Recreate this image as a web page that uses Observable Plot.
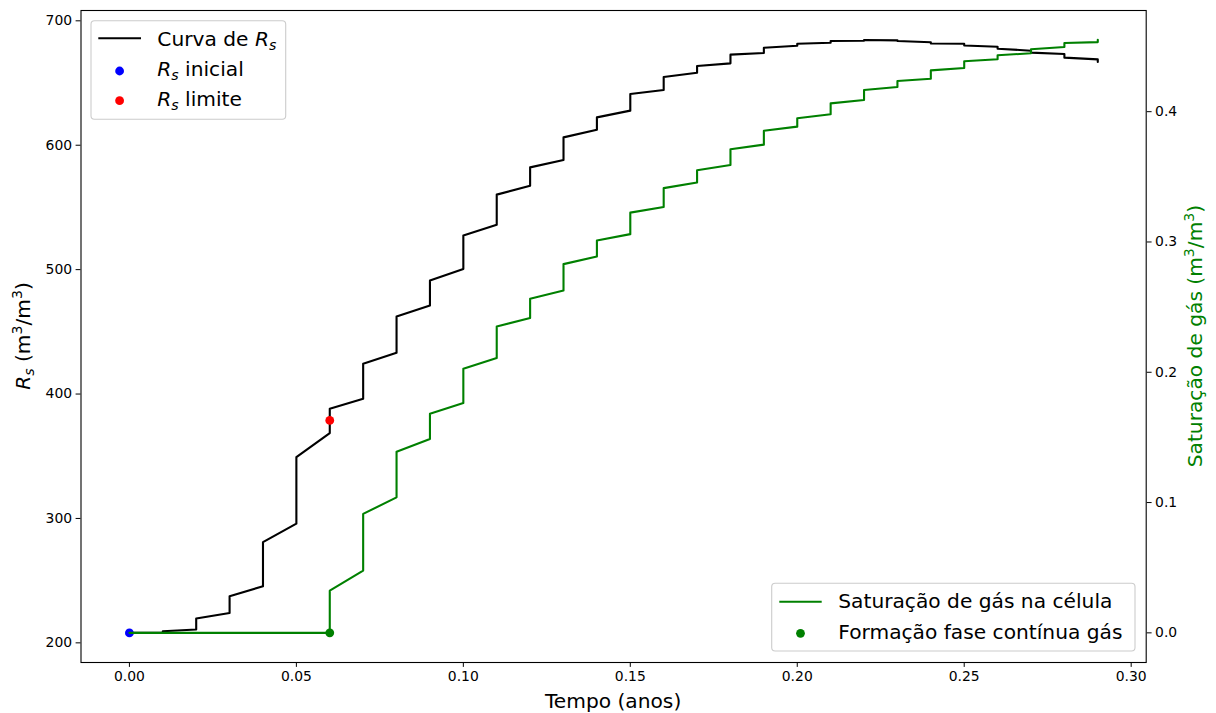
<!DOCTYPE html>
<html>
<head>
<meta charset="utf-8">
<script src="https://cdn.jsdelivr.net/npm/d3@7"></script>
<script src="https://cdn.jsdelivr.net/npm/@observablehq/plot@0.6"></script>
<style>
  html, body { margin: 0; padding: 0; background: #fff; }
  #chart { width: 1216px; height: 713px; }
  svg { font-family: "DejaVu Sans", sans-serif; }
</style>
</head>
<body>
<div id="chart"></div>
<script>
// ---- Data ----
const tempo = [0.00, 0.01, 0.02, 0.03, 0.04, 0.05, 0.06, 0.07, 0.08, 0.09,
               0.10, 0.11, 0.12, 0.13, 0.14, 0.15, 0.16, 0.17, 0.18, 0.19,
               0.20, 0.21, 0.22, 0.23, 0.24, 0.25, 0.26, 0.27, 0.28, 0.29];
// Rs value reached at the end of each step (before the jump) and after the jump
const rsAntes  = [208.0, 208.0, 210.7, 224.0, 245.5, 295.8, 368.6, 396.2, 433.2, 471.2,
                  500.6, 536.0, 567.5, 588.2, 612.5, 627.8, 644.4, 658.3, 665.8, 674.1,
                  680.0, 682.4, 684.0, 684.3, 682.8, 681.6, 679.2, 676.0, 673.3, 669.0];
const rsDepois = [208.0, 209.3, 219.5, 237.4, 281.0, 349.3, 388.2, 424.3, 462.3, 491.2,
                  527.4, 560.3, 582.2, 606.3, 622.4, 641.2, 654.9, 663.7, 672.8, 678.4,
                  681.6, 683.8, 684.6, 683.8, 681.8, 680.2, 677.6, 674.4, 670.4, 666.9];
// Gas saturation before / after each jump
const sgAntes  = [0, 0, 0, 0, 0, 0, 0, 0.0478, 0.1040, 0.1488,
                  0.1764, 0.2109, 0.2416, 0.2627, 0.2888, 0.3060, 0.3269, 0.3456, 0.3591, 0.3747,
                  0.3885, 0.3980, 0.4090, 0.4189, 0.4253, 0.4335, 0.4402, 0.4448, 0.4496, 0.4534];
const sgDepois = [0, 0, 0, 0, 0, 0, 0.0324, 0.0913, 0.1390, 0.1682,
                  0.2027, 0.2351, 0.2564, 0.2830, 0.3011, 0.3225, 0.3413, 0.3551, 0.3712, 0.3854,
                  0.3949, 0.4064, 0.4166, 0.4235, 0.4317, 0.4387, 0.4433, 0.4479, 0.4527, 0.4552];
const rsInicial = [{t: 0.00, rs: 208.0}];
const rsLimite  = [{t: 0.06, rs: 378.8}];
const formacaoGas = [{t: 0.06, sg: 0.0}];

const xTicks  = [0.00, 0.05, 0.10, 0.15, 0.20, 0.25, 0.30];
const rsTicks = [200, 300, 400, 500, 600, 700];
const sgTicks = [0.0, 0.1, 0.2, 0.3, 0.4];

// ---- Scales / twin axis mapping ----
const xDomain  = [-0.0145, 0.3045];
const rsDomain = [184.2, 708.3];
const sgDomain = [-0.02275, 0.47765];
const toLeft = s => rsDomain[0] + (s - sgDomain[0]) * (rsDomain[1] - rsDomain[0]) / (sgDomain[1] - sgDomain[0]);
const fromLeft = v => sgDomain[0] + (v - rsDomain[0]) * (sgDomain[1] - sgDomain[0]) / (rsDomain[1] - rsDomain[0]);

const rsLinha = tempo.flatMap((t, i) => [{t, v: rsAntes[i]}, {t, v: rsDepois[i]}]);
const sgLinha = tempo.flatMap((t, i) => [{t, v: toLeft(sgAntes[i])}, {t, v: toLeft(sgDepois[i])}]);

const FS_TICK = 13.9;
const FS_LAB = 20.2;
const SUB = 4.2, SUP = 7.8;

const chart = Plot.plot({
  width: 1216,
  height: 713,
  marginLeft: 80.5,
  marginRight: 70.3,
  marginTop: 10,
  marginBottom: 51,
  style: {fontFamily: "DejaVu Sans, sans-serif", fontSize: FS_TICK + "px", color: "black", background: "white"},
  x: {domain: xDomain},
  y: {domain: rsDomain},
  marks: [
    Plot.axisX({ticks: xTicks, tickFormat: d => d.toFixed(2), tickSize: 4.9, tickPadding: 4, fontSize: FS_TICK, label: null, stroke: "black"}),
    Plot.axisY({anchor: "left", ticks: rsTicks, tickFormat: d => String(d), tickSize: 4.9, tickPadding: 4, fontSize: FS_TICK, label: null}),
    Plot.axisY({anchor: "right", ticks: sgTicks.map(toLeft), tickFormat: d => fromLeft(d).toFixed(1), tickSize: 4.9, tickPadding: 4, fontSize: FS_TICK, label: null}),
    Plot.line(rsLinha, {x: "t", y: "v", stroke: "black", strokeWidth: 2.1}),
    Plot.dot(rsInicial, {x: "t", y: "rs", r: 4.4, fill: "#0000ff", stroke: "none"}),
    Plot.dot(rsLimite, {x: "t", y: "rs", r: 4.4, fill: "#ff0000", stroke: "none"}),
    Plot.line(sgLinha, {x: "t", y: "v", stroke: "#008000", strokeWidth: 2.1}),
    Plot.dot(formacaoGas, {x: "t", y: d => toLeft(d.sg), r: 4.4, fill: "#008000", stroke: "none"}),
    Plot.frame({stroke: "black", strokeWidth: 1.1})
  ]
});
document.getElementById("chart").appendChild(chart);

// ---- Axis labels and legends (text with sub/superscripts) ----
const svg = d3.select(chart);

// x label
svg.append("text").attr("x", 613.1).attr("y", 708.3).attr("text-anchor", "middle")
  .attr("font-size", FS_LAB).attr("fill", "black").text("Tempo (anos)");

// left y label
{
  const t = svg.append("text").attr("transform", "translate(29.8,336) rotate(-90)")
    .attr("text-anchor", "middle").attr("font-size", FS_LAB).attr("fill", "black");
  t.append("tspan").attr("font-style", "italic").text("R");
  t.append("tspan").attr("font-style", "italic").attr("font-size", "70%").attr("dy", SUB).text("s");
  t.append("tspan").attr("dy", -SUB).text(" (m");
  t.append("tspan").attr("font-size", "70%").attr("dy", -SUP).text("3");
  t.append("tspan").attr("dy", SUP).text("/m");
  t.append("tspan").attr("font-size", "70%").attr("dy", -SUP).text("3");
  t.append("tspan").attr("dy", SUP).text(")");
}
// right y label
{
  const t = svg.append("text").attr("transform", "translate(1202,336) rotate(-90)")
    .attr("text-anchor", "middle").attr("font-size", FS_LAB).attr("fill", "#008000");
  t.append("tspan").text("Saturação de gás (m");
  t.append("tspan").attr("font-size", "70%").attr("dy", -SUP).text("3");
  t.append("tspan").attr("dy", SUP).text("/m");
  t.append("tspan").attr("font-size", "70%").attr("dy", -SUP).text("3");
  t.append("tspan").attr("dy", SUP).text(")");
}

// upper-left legend
{
  const g = svg.append("g").attr("text-anchor", "start");
  g.append("rect").attr("x", 91).attr("y", 20.7).attr("width", 194.7).attr("height", 98.6)
    .attr("rx", 3.5).attr("fill", "white").attr("fill-opacity", 0.8).attr("stroke", "#cccccc").attr("stroke-width", 1.1);
  g.append("line").attr("x1", 98.3).attr("x2", 141).attr("y1", 38.3).attr("y2", 38.3)
    .attr("stroke", "black").attr("stroke-width", 2.1);
  g.append("circle").attr("cx", 119.6).attr("cy", 71).attr("r", 4.4).attr("fill", "#0000ff");
  g.append("circle").attr("cx", 119.6).attr("cy", 100.7).attr("r", 4.4).attr("fill", "#ff0000");
  const rows = [["Curva de ", "", 45.5], ["", " inicial", 75.9], ["", " limite", 105.8]];
  rows.forEach(([pre, post, y]) => {
    const t = g.append("text").attr("x", 157.3).attr("y", y).attr("text-anchor", "start")
      .attr("font-size", FS_LAB).attr("fill", "black");
    if (pre) t.append("tspan").text(pre);
    t.append("tspan").attr("font-style", "italic").text("R");
    t.append("tspan").attr("font-style", "italic").attr("font-size", "70%").attr("dy", SUB).text("s");
    if (post) t.append("tspan").attr("dy", -SUB).text(post);
  });
}
// lower-right legend
{
  const g = svg.append("g").attr("text-anchor", "start");
  g.append("rect").attr("x", 771.7).attr("y", 583.3).attr("width", 363.3).attr("height", 67.7)
    .attr("rx", 3.5).attr("fill", "white").attr("fill-opacity", 0.8).attr("stroke", "#cccccc").attr("stroke-width", 1.1);
  g.append("line").attr("x1", 779.3).attr("x2", 821.7).attr("y1", 601.7).attr("y2", 601.7)
    .attr("stroke", "#008000").attr("stroke-width", 2.1);
  g.append("circle").attr("cx", 800.5).attr("cy", 633.3).attr("r", 4.4).attr("fill", "#008000");
  g.append("text").attr("x", 838.3).attr("y", 608.1).attr("text-anchor", "start").attr("font-size", FS_LAB).attr("fill", "black").text("Saturação de gás na célula");
  g.append("text").attr("x", 838.3).attr("y", 639.4).attr("text-anchor", "start").attr("font-size", FS_LAB).attr("fill", "black").text("Formação fase contínua gás");
}
</script>
</body>
</html>
